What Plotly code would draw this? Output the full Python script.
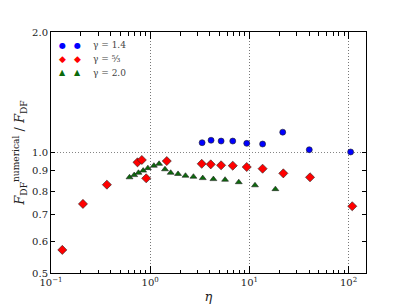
import plotly.graph_objects as go
import numpy as np

# gamma = 1.4
eta_14 = [3.34, 4.11, 5.19, 6.8, 9.41, 13.6, 21.7, 40.2, 105]
f_14 = [1.058, 1.073, 1.068, 1.068, 1.054, 1.050, 1.124, 1.016, 1.003]

# gamma = 5/3
eta_53 = [0.130, 0.21, 0.366, 0.745, 0.824, 0.912, 1.47, 3.31, 4.08, 5.19, 6.8, 9.41, 13.6, 22.0, 40.9, 109]
f_53 = [0.571, 0.744, 0.831, 0.945, 0.958, 0.862, 0.952, 0.937, 0.934, 0.929, 0.927, 0.920, 0.911, 0.887, 0.867, 0.734]

# gamma = 2.0
eta_20 = [0.619, 0.69, 0.762, 0.85, 0.948, 1.09, 1.23, 1.41, 1.61, 1.91, 2.27, 2.73, 3.39, 4.34, 5.69, 7.82, 11.4, 18.3]
f_20 = [0.867, 0.878, 0.890, 0.901, 0.914, 0.927, 0.937, 0.908, 0.890, 0.884, 0.875, 0.870, 0.863, 0.858, 0.855, 0.843, 0.828, 0.810]

series_labels = ["γ = 1.4", "γ = ⁵⁄₃", "γ = 2.0"]
series_colors = ["#0000ff", "#ff0000", "#0b6a0b"]
series_symbols = ["circle", "diamond", "triangle-up"]
legend_glyphs = ["●", "◆", "▲"]

x_tickvals = [0.1, 1, 10, 100]
x_ticktext = ["10<sup>−1</sup>", "10<sup>0</sup>", "10<sup>1</sup>", "10<sup>2</sup>"]
y_tickvals = [0.5, 0.6, 0.7, 0.8, 0.9, 1.0, 2.0]
y_ticktext = ["0.5", "0.6", "0.7", "0.8", "0.9", "1.0", "2.0"]

SERIF = "DejaVu Serif"

fig = go.Figure()
for xs, ys, lab, col, sym, sz in zip([eta_14, eta_53, eta_20], [f_14, f_53, f_20],
                                     series_labels, series_colors, series_symbols, [6, 7, 6]):
    fig.add_trace(go.Scatter(
        x=xs, y=ys, mode="markers", name=lab,
        marker=dict(symbol=sym, size=sz, color=col, line=dict(color="#222", width=0.6))))

fig.add_hline(y=1.0, line=dict(color="#666", width=0.8, dash="1px,2px"), layer="below")

# legend (upper left, two sample markers per entry, as in matplotlib)
legend_rows = [0.946, 0.888, 0.830]
glyph_sizes = [8, 9, 8]
for row, lab, col, gl, gsize in zip(legend_rows, series_labels, series_colors, legend_glyphs, glyph_sizes):
    for gx in (0.035, 0.083):
        fig.add_annotation(xref="paper", yref="paper", x=gx, y=row, text=gl, showarrow=False,
                           xanchor="center", yanchor="middle",
                           font=dict(family="DejaVu Sans", size=gsize, color=col))
    fig.add_annotation(xref="paper", yref="paper", x=0.128, y=row, text=lab, showarrow=False,
                       xanchor="left", yanchor="middle",
                       font=dict(family=SERIF, size=9, color="#444"))

axis_common = dict(
    type="log", showline=True, linecolor="black", linewidth=1, mirror="allticks",
    ticks="inside", tickcolor="black", tickwidth=0.8, automargin=False,
    zeroline=False, tickfont=dict(family=SERIF, size=10, color="#222"),
)

fig.update_xaxes(
    **axis_common,
    ticklen=7,
    range=[np.log10(0.1), np.log10(150)],
    tickvals=x_tickvals, ticktext=x_ticktext,
    showgrid=True, gridcolor="#777", griddash="1px,2px", gridwidth=0.8,
    minor=dict(ticks="inside", ticklen=3.5, tickcolor="black", tickwidth=0.6, showgrid=False,
               tickvals=[m * 10.0 ** d for d in (-1, 0, 1, 2) for m in range(2, 10)]),
    title=dict(text="<i>η</i>", font=dict(family=SERIF, size=13, color="#222"), standoff=4),
)
fig.update_yaxes(
    **axis_common,
    range=[np.log10(0.5), np.log10(2.0)],
    tickvals=y_tickvals, ticktext=y_ticktext,
    showgrid=False, ticklen=4,
    title=dict(text="<i>F</i><sub>DF</sub><sup>numerical</sup> / <i>F</i><sub>DF</sub>",
               font=dict(family=SERIF, size=13, color="#222"), standoff=4),
)

fig.update_layout(
    width=399, height=297,
    margin=dict(l=43, r=41, t=24, b=32),
    paper_bgcolor="white", plot_bgcolor="white",
    showlegend=False,
)

fig.write_html("out.html")
